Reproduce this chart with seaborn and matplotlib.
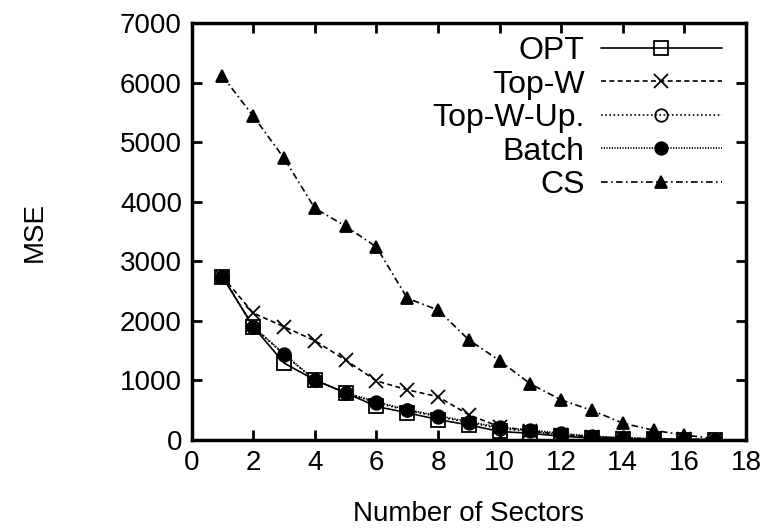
import matplotlib
matplotlib.use("Agg")
import matplotlib.pyplot as plt
import seaborn as sns
import pandas as pd

sectors = list(range(1, 18))
opt = [2740, 1900, 1290, 1005, 790, 560, 455, 340, 250, 140, 110, 60, 30, 15, 8, 4, 2]
top_w = [2740, 2130, 1900, 1665, 1340, 990, 840, 725, 420, 220, 150, 85, 50, 30, 15, 8, 4]
top_w_up = [2740, 1900, 1430, 1005, 790, 620, 495, 390, 290, 190, 140, 90, 55, 30, 15, 8, 4]
batch = [2740, 1900, 1445, 1005, 790, 640, 505, 405, 305, 210, 165, 110, 60, 35, 18, 9, 4]
cs = [6110, 5440, 4730, 3890, 3590, 3240, 2380, 2180, 1680, 1330, 940, 670, 495, 280, 160, 80, 20]

series = {
    "OPT": opt,
    "Top-W": top_w,
    "Top-W-Up.": top_w_up,
    "Batch": batch,
    "CS": cs,
}
styles = {
    "OPT": dict(linestyle="-", marker="s", mfc="none", ms=10),
    "Top-W": dict(linestyle=(0, (3, 2)), marker="x", mfc="black", ms=10, mew=1.3),
    "Top-W-Up.": dict(linestyle=(0, (1, 1.5)), marker="o", mfc="none", ms=9),
    "Batch": dict(linestyle=(0, (0.8, 0.8)), marker="o", mfc="black", ms=9),
    "CS": dict(linestyle=(0, (4, 2, 1, 2)), marker="^", mfc="black", ms=9),
}

sns.set_style("ticks")
plt.rcParams["font.family"] = ["Liberation Sans", "DejaVu Sans"]
plt.rcParams["text.color"] = "black"
plt.rcParams["axes.labelcolor"] = "black"

fig = plt.figure(figsize=(7.73, 5.28), dpi=100)
ax = fig.add_axes([0.248, 0.167, 0.717, 0.789])

for name, vals in series.items():
    df = pd.DataFrame({"x": sectors, "y": vals})
    st = styles[name]
    sns.lineplot(data=df, x="x", y="y", ax=ax, color="black", lw=1.2,
                 linestyle=st["linestyle"], marker=st["marker"],
                 markerfacecolor=st["mfc"], markeredgecolor="black",
                 markersize=st["ms"], markeredgewidth=st.get("mew", 1.3),
                 label=name)

ax.set_xlim(0, 18)
ax.set_ylim(0, 7000)
ax.set_xticks(range(0, 19, 2))
ax.set_yticks(range(0, 7001, 1000))
ax.tick_params(direction="in", length=7, width=2, labelsize=20, top=True, right=True,
               pad=7, colors="black")
for s in ax.spines.values():
    s.set_linewidth(2.5)
    s.set_color("black")
ax.set_xlabel("Number of Sectors", fontsize=20, labelpad=18)
ax.set_ylabel("MSE", fontsize=20, labelpad=52)

leg = ax.legend(loc="upper right", bbox_to_anchor=(0.980, 1.0), frameon=False,
                markerfirst=False, fontsize=23,
                handlelength=3.8, handletextpad=0.5, labelspacing=0.11,
                borderaxespad=0.2, borderpad=0.2, numpoints=1)
for t in leg.get_texts():
    t.set_color("black")

fig.savefig("out.png", dpi=100)
